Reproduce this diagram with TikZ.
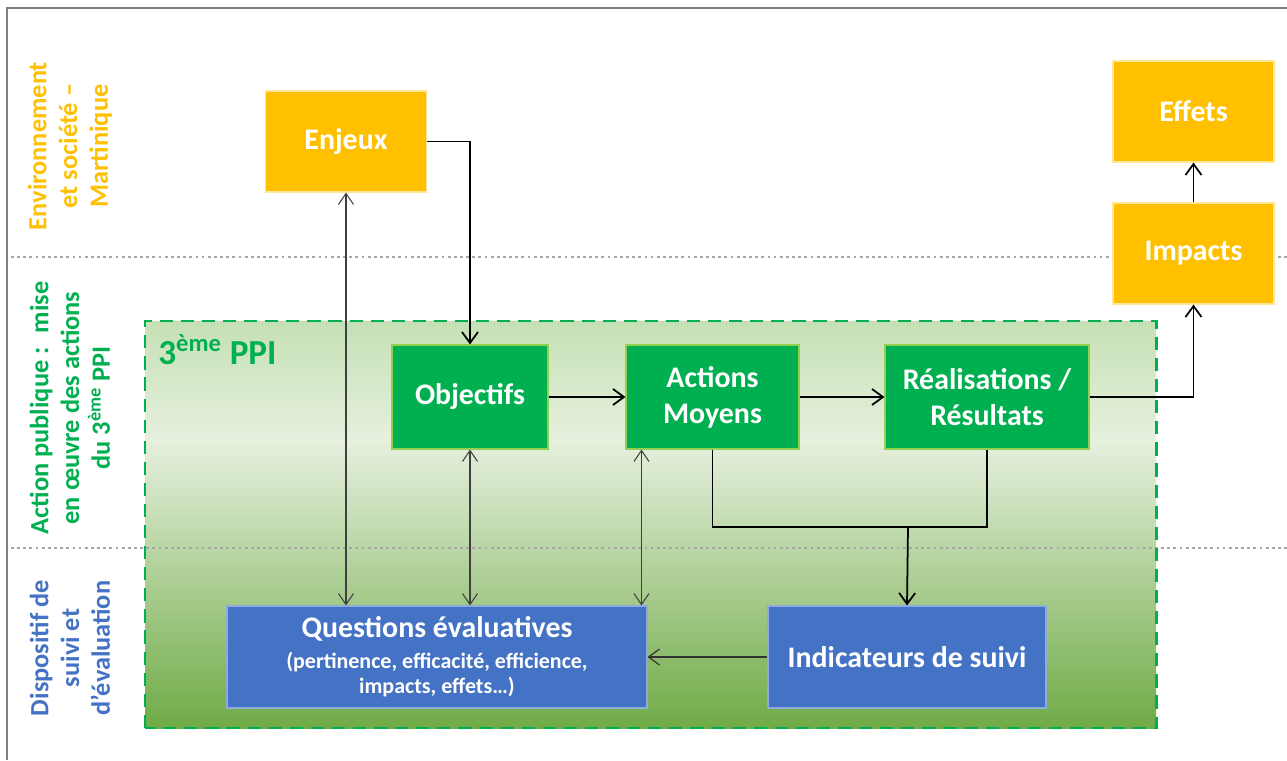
\documentclass[tikz,border=0pt]{standalone}
\usepackage{fontspec}
\setmainfont{Carlito}
\usetikzlibrary{arrows.meta}

\definecolor{jaune}{HTML}{FFC000}
\definecolor{jauneclair}{HTML}{FFE699}
\definecolor{vert}{HTML}{00B050}
\definecolor{vertclair}{HTML}{92D050}
\definecolor{bleu}{HTML}{4472C4}
\definecolor{bleuclair}{HTML}{8FAADC}
\definecolor{fondhaut}{HTML}{C5E0B4}
\definecolor{fondmilieu}{HTML}{E6F0DE}
\definecolor{fondbas}{HTML}{6FAB46}
\definecolor{cadre}{HTML}{7F7F7F}
\definecolor{pointille}{HTML}{A6A6A6}

\tikzset{
    boite/.style={inner sep=2pt, text=white, align=center, line width=0.6pt,
        font=\bfseries\fontsize{17}{20.5}\selectfont},
    boitejaune/.style={boite, fill=jaune, draw=jauneclair, minimum width=3.22cm, minimum height=2.02cm},
    boiteverte/.style={boite, fill=vert, draw=vertclair, minimum height=2.08cm},
    boitebleue/.style={boite, fill=bleu, draw=bleuclair, minimum height=2.04cm},
    niveau/.style={rotate=90, align=center, font=\bfseries\fontsize{15}{17.5}\selectfont},
    fleche/.style={-{Straight Barb[length=2.2mm, width=3.2mm]}, line width=1pt},
    fleche fine/.style={{Straight Barb[length=2.2mm, width=3mm]}-{Straight Barb[length=2.2mm, width=3mm]},
        line width=0.6pt, black!75},
    separation/.style={pointille, line width=1.4pt, dash pattern=on 1.6pt off 1.9pt}
}

\begin{document}
\begin{tikzpicture}
    \useasboundingbox (0, 0) rectangle (25.74, 15.2);
    \draw[cadre, line width=1.1pt] (0.14, 0) -- (0.14, 15.04) -- (25.74, 15.04);

    \shade[top color=fondhaut, bottom color=fondmilieu] (2.90, 6.40) rectangle (23.12, 8.78);
    \shade[top color=fondmilieu, bottom color=fondbas] (2.90, 0.64) rectangle (23.12, 6.40);
    \draw[separation] (0.22, 10.06) -- (25.74, 10.06);
    \draw[separation] (0.22, 4.24) -- (25.74, 4.24);
    \draw[vert, line width=1.7pt, dash pattern=on 7.5pt off 4.5pt] (2.90, 0.64) rectangle (23.12, 8.78);
    \node[anchor=west, inner sep=0pt, text=vert, font=\bfseries\fontsize{20}{24}\selectfont] (ppi) at (3.16, 8.2) {3\textsuperscript{ème} PPI};

    \node[niveau, text=jaune] (environnement) at (1.40, 12.28) {Environnement\\et société –\\Martinique};
    \node[niveau, text=vert] (actionpublique) at (1.40, 7.04) {Action publique~: ~mise\\en œuvre des actions\\du 3\textsuperscript{ème} PPI};
    \node[niveau, text=bleu] (dispositif) at (1.40, 2.24) {Dispositif de\\suivi et\\d’évaluation};

    \node[boitejaune] (enjeux) at (6.92, 12.37) {Enjeux};
    \node[boitejaune] (effets) at (23.87, 12.97) {Effets};
    \node[boitejaune] (impacts) at (23.87, 10.13) {Impacts};

    \node[boiteverte, minimum width=3.12cm] (objectifs) at (9.40, 7.26) {Objectifs};
    \node[boiteverte, minimum width=3.46cm] (actions) at (14.25, 7.26) {Actions\\Moyens};
    \node[boiteverte, minimum width=4.08cm] (realisations) at (19.74, 7.26) {Réalisations /\\Résultats};

    \node[boitebleue, minimum width=8.40cm] (questions) at (8.74, 2.06) {Questions évaluatives\\[-3pt]
        \fontsize{12.5}{14.5}\selectfont (pertinence, efficacité, efficience,\\[-6pt]
        \fontsize{12.5}{14.5}\selectfont impacts, effets…)};
    \node[boitebleue, minimum width=5.56cm] (indicateurs) at (18.14, 2.06) {Indicateurs de suivi};

    \coordinate (jonction) at (18.16, 4.66);

    \draw[fleche] (enjeux.east) -| (objectifs.north);
    \draw[fleche] (objectifs) -- (actions);
    \draw[fleche] (actions) -- (realisations);
    \draw[fleche] (realisations.east) -| (impacts.south);
    \draw[fleche] (impacts) -- (effets);
    \draw[line width=1pt] (actions.south) |- (jonction) -| (realisations.south);
    \draw[fleche] (jonction) -- (indicateurs.north);
    \draw[fleche, line width=0.7pt, black!80] (indicateurs.west) -- (questions.east |- indicateurs.west);

    \draw[fleche fine] (enjeux.south) -- (enjeux.south |- questions.north);
    \draw[fleche fine] (objectifs.south) -- (objectifs.south |- questions.north);
    \draw[fleche fine] ([xshift=0.32cm]actions.south west) -- ([xshift=0.32cm]actions.south west |- questions.north);
\end{tikzpicture}
\end{document}
